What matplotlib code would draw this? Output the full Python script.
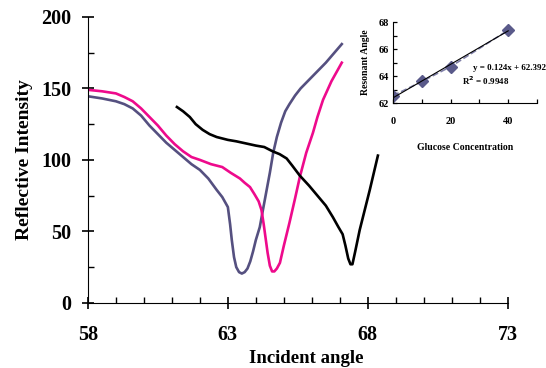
import matplotlib.pyplot as plt
from matplotlib.ticker import MultipleLocator
import numpy as np

plt.rcParams['font.family'] = ['Liberation Serif', 'DejaVu Serif']
plt.rcParams['font.weight'] = 'bold'

# curve 1 (slate blue)
ang_blue = [58.0, 58.5, 59.0, 59.3, 59.6, 59.9, 60.2, 60.5, 60.8, 61.1, 61.4, 61.7,
            62.0, 62.3, 62.6, 62.8, 63.0, 63.08, 63.14, 63.22, 63.3, 63.4, 63.5, 63.6,
            63.7, 63.8, 63.9, 64.0, 64.14, 64.3, 64.5, 64.62, 64.75, 64.9, 65.05, 65.2,
            65.4, 65.6, 66.0, 66.5, 67.07]
int_blue = [144.5, 143, 141, 139, 136, 131, 124, 118, 112, 107, 102, 97,
            93, 87, 79, 74, 67, 55, 44, 32, 25, 21.5, 20.5, 21.5,
            24, 29, 36, 44, 53, 70, 91, 105, 116, 126, 134, 139,
            145, 150, 158, 168, 181]

# curve 2 (pink)
ang_pink = [58.0, 58.5, 59.0, 59.3, 59.6, 59.9, 60.2, 60.5, 60.8, 61.1, 61.4, 61.7,
            62.0, 62.4, 62.8, 63.1, 63.43, 63.6, 63.79, 63.95, 64.1, 64.2, 64.28, 64.35,
            64.42, 64.5, 64.58, 64.66, 64.75, 64.86, 65.0, 65.2, 65.4, 65.57, 65.8, 66.04,
            66.2, 66.4, 66.7, 67.07]
int_pink = [149, 148, 146.5, 144, 141, 136, 130, 124, 117, 111, 106, 102,
            100, 97, 95, 91, 87, 84, 81, 76, 71, 65, 55, 45,
            35, 26, 22, 22, 24, 28, 40, 56, 73, 88, 105, 119,
            130, 142, 155, 168]

# curve 3 (black)
ang_black = [61.18, 61.4, 61.64, 61.85, 62.1, 62.35, 62.6, 63.0, 63.3, 64.0, 64.3,
             64.6, 64.85, 65.1, 65.3, 65.57, 65.9, 66.2, 66.5, 66.75, 66.95, 67.1,
             67.2, 67.3, 67.38, 67.45, 67.55, 67.71, 68.07, 68.36]
int_black = [137, 134, 130, 125, 121, 118, 116, 114, 113, 110, 109,
             106, 104, 101, 96, 89, 82, 75, 68, 60, 53, 48,
             40, 31, 27, 27, 36, 51, 79, 103]

# inset: glucose vs resonant angle
glucose = [0, 10, 20, 40]
res_angle = [62.55, 63.6, 64.7, 67.4]
slope, icpt = 0.124, 62.392

fig = plt.figure(figsize=(5.46, 3.68), dpi=100)
ax = fig.add_axes([0.161, 0.177, 0.769, 0.777])
ax.plot(ang_blue, int_blue, color='#555080', lw=1.9)
ax.plot(ang_pink, int_pink, color='#ee0a8c', lw=1.9)
ax.plot(ang_black, int_black, color='black', lw=1.9)

ax.set_xlim(58, 73)
ax.set_ylim(0, 200)
ax.set_xticks([58, 63, 68, 73])
ax.set_xticks(range(58, 74), minor=True)
ax.yaxis.set_major_locator(MultipleLocator(50))
ax.yaxis.set_minor_locator(MultipleLocator(25))
for s in ['top', 'right']:
    ax.spines[s].set_visible(False)
ax.tick_params(which='major', direction='inout', length=8, width=1.2, labelsize=14.5, pad=8)
ax.tick_params(which='minor', direction='in', length=4, width=1.0)
ax.tick_params(axis='x', which='major', pad=12)
for lbl in ax.get_xticklabels() + ax.get_yticklabels():
    lbl.set_fontweight('bold')
ax.set_xlabel('Incident angle', fontsize=13.5, fontweight='bold')
ax.xaxis.set_label_coords(0.52, -0.165)
ax.set_ylabel('Reflective Intensity', fontsize=14, fontweight='bold', labelpad=6)

# inset
axi = fig.add_axes([0.72, 0.72, 0.2635, 0.22])
axi.plot(glucose, res_angle, color='#8080a8', lw=1.2, ls='--', marker='D',
         markersize=6.5, markerfacecolor='#5a5a8a', markeredgecolor='#5a5a8a')
xs = np.array([0, 40])
axi.plot(xs, slope * xs + icpt, color='black', lw=0.8)
axi.set_xlim(0, 50)
axi.set_ylim(62, 68)
axi.xaxis.set_major_locator(MultipleLocator(20))
axi.xaxis.set_minor_locator(MultipleLocator(10))
axi.yaxis.set_major_locator(MultipleLocator(2))
axi.yaxis.set_minor_locator(MultipleLocator(1))
for s in ['top', 'right']:
    axi.spines[s].set_visible(False)
axi.tick_params(which='both', direction='in', length=3, width=0.9, labelsize=7.5, pad=3)
axi.tick_params(axis='x', which='major', pad=10)
for lbl in axi.get_xticklabels() + axi.get_yticklabels():
    lbl.set_fontweight('bold')
axi.set_xlabel('Glucose Concentration', fontsize=7, fontweight='bold', labelpad=12)
axi.set_ylabel('Resonant Angle', fontsize=7, fontweight='bold', labelpad=6)
axi.text(1.06, 0.43, 'y = 0.124x + 62.392', transform=axi.transAxes, fontsize=6.5,
         fontweight='bold', ha='right', va='center', clip_on=False)
axi.text(0.64, 0.28, 'R$^2$ = 0.9948', transform=axi.transAxes, fontsize=6.5,
         fontweight='bold', ha='center', va='center')

fig.savefig('out.png', dpi=100)
